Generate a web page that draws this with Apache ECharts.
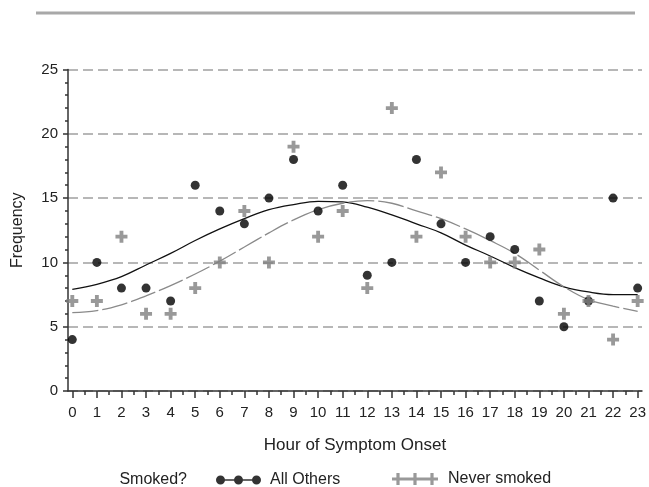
<!DOCTYPE html>
<html>
<head>
<meta charset="utf-8">
<script src="https://cdn.jsdelivr.net/npm/echarts@6/dist/echarts.min.js"></script>
<style>
html,body{margin:0;padding:0;background:#fff;}
#chart{width:649px;height:487px;}
</style>
</head>
<body>
<div id="chart"></div>
<script>
// Hours 0..23
var hours = [0,1,2,3,4,5,6,7,8,9,10,11,12,13,14,15,16,17,18,19,20,21,22,23];
// Observed frequencies
var allOthers   = [4,10,8,8,7,16,14,13,15,18,14,16,9,10,18,13,10,12,11,7,5,7,15,8];
var neverSmoked = [7,7,12,6,6,8,10,14,10,19,12,14,8,22,12,17,12,10,10,11,6,7,4,7];
// Fitted curves
var fitAllOthers   = [7.9,8.3,8.9,9.8,10.7,11.7,12.6,13.4,14.1,14.5,14.75,14.7,14.3,13.7,13.0,12.3,11.35,10.5,9.6,8.8,8.1,7.7,7.5,7.5];
var fitNeverSmoked = [6.1,6.25,6.7,7.4,8.2,9.1,10.1,11.2,12.3,13.3,14.1,14.6,14.8,14.6,14.0,13.4,12.6,11.7,10.7,9.4,8.1,7.1,6.6,6.2];
var yTicks = [0,5,10,15,20,25];

function pairs(v){ return hours.map(function(h,i){ return [h, v[i]]; }); }

var plusPath = 'path://M3.4,0H6.6V3.4H10V6.6H6.6V10H3.4V6.6H0V3.4H3.4Z';
var dotsIcon = 'path://M0,4.5A4.5,4.5 0 1 1 9,4.5A4.5,4.5 0 1 1 0,4.5Z M18,4.5A4.5,4.5 0 1 1 27,4.5A4.5,4.5 0 1 1 18,4.5Z M36,4.5A4.5,4.5 0 1 1 45,4.5A4.5,4.5 0 1 1 36,4.5Z M8.5,3.7H18.5V5.3H8.5Z M26.5,3.7H36.5V5.3H26.5Z';
var plusIcon = 'path://M0,4.4H46V7.6H0Z M4.4,0H7.6V12H4.4Z M21.4,0H24.6V12H21.4Z M38.4,0H41.6V12H38.4Z';

var FONT = 'Liberation Sans, Arial, sans-serif';
var chart = echarts.init(document.getElementById('chart'), null, {renderer:'canvas'});
chart.setOption({
  animation:false,
  backgroundColor:'#fff',
  textStyle:{fontFamily:FONT},
  grid:[
    {left:68, right:7, top:69.5, bottom:96},
    {left:72.3, right:9.5, top:69.5, bottom:96}
  ],
  xAxis:[
    {gridIndex:0, type:'value', min:0, max:1,
     axisLine:{show:true, lineStyle:{color:'#333', width:1.5}},
     axisTick:{show:false}, axisLabel:{show:false}, splitLine:{show:false}},
    {gridIndex:1, type:'value', min:0, max:23, interval:1,
     axisLine:{show:false},
     axisTick:{show:true, length:7, lineStyle:{color:'#333', width:1.5}},
     minorTick:{show:true, splitNumber:2, length:4, lineStyle:{color:'#333', width:1.5}},
     axisLabel:{fontSize:15, color:'#222', margin:14, fontFamily:FONT},
     splitLine:{show:false},
     name:'Hour of Symptom Onset', nameLocation:'middle', nameGap:46,
     nameTextStyle:{fontSize:17, color:'#222', fontFamily:FONT}}
  ],
  yAxis:[
    {gridIndex:0, type:'value', min:yTicks[0], max:yTicks[yTicks.length-1], interval:5,
     axisLine:{show:true, lineStyle:{color:'#333', width:1.5}},
     axisTick:{show:true, length:5, lineStyle:{color:'#333', width:1.5}},
     minorTick:{show:true, splitNumber:5, length:3, lineStyle:{color:'#333', width:1.5}},
     axisLabel:{fontSize:15, color:'#222', margin:10, fontFamily:FONT},
     splitLine:{show:true, lineStyle:{color:'#a0a0a0', width:1.5, type:[10,5]}},
     name:'Frequency', nameLocation:'middle', nameGap:42,
     nameTextStyle:{fontSize:16, color:'#222', fontFamily:FONT}},
    {gridIndex:1, type:'value', min:0, max:25,
     axisLine:{show:false}, axisTick:{show:false}, axisLabel:{show:false}, splitLine:{show:false}}
  ],
  legend:[
    {data:[{name:'All Others', icon:dotsIcon}], left:211, top:467, itemWidth:45, itemHeight:9, itemGap:0,
     textStyle:{fontSize:16, color:'#222', fontFamily:FONT, padding:[0,0,0,4]}, selectedMode:false},
    {data:[{name:'Never smoked', icon:plusIcon}], left:387, top:466, itemWidth:46, itemHeight:12, itemGap:0,
     textStyle:{fontSize:16, color:'#222', fontFamily:FONT, padding:[0,0,0,5]}, selectedMode:false}
  ],
  graphic:[
    {type:'line', shape:{x1:36, y1:13, x2:635, y2:13}, style:{stroke:'#a8a8a8', lineWidth:3}},
    {type:'text', x:187, y:480, style:{text:'Smoked?', fontSize:16, fill:'#222', fontFamily:FONT, textAlign:'right', textVerticalAlign:'middle'}}
  ],
  series:[
    {name:'fitAll', type:'line', xAxisIndex:1, yAxisIndex:1, data:pairs(fitAllOthers),
     smooth:0.4, showSymbol:false, symbol:'none', silent:true,
     lineStyle:{color:'#111', width:1.3}, z:2},
    {name:'fitNever', type:'line', xAxisIndex:1, yAxisIndex:1, data:pairs(fitNeverSmoked),
     smooth:0.4, showSymbol:false, symbol:'none', silent:true,
     lineStyle:{color:'#8a8a8a', width:1.3, type:[26,4]}, z:2},
    {name:'All Others', type:'scatter', xAxisIndex:1, yAxisIndex:1, data:pairs(allOthers),
     symbol:'circle', symbolSize:9, itemStyle:{color:'#000'}, z:3},
    {name:'Never smoked', type:'scatter', xAxisIndex:1, yAxisIndex:1, data:pairs(neverSmoked),
     symbol:plusPath, symbolSize:12, itemStyle:{color:'#808080'}, z:4}
  ]
});
</script>
</body>
</html>
